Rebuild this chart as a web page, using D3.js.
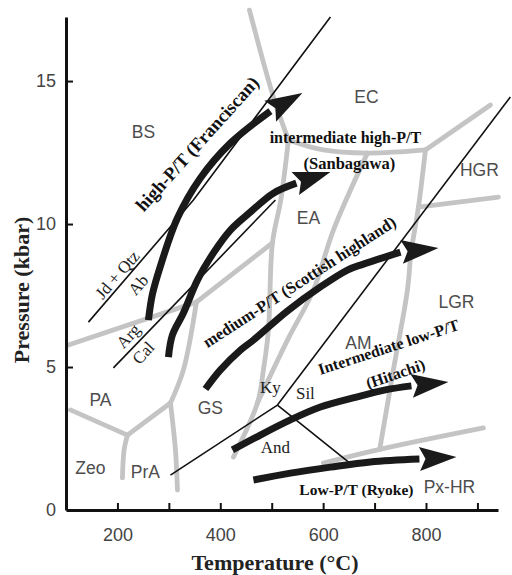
<!DOCTYPE html>
<html><head><meta charset="utf-8">
<script src="https://cdn.jsdelivr.net/npm/d3@7"></script>
<style>
html,body{margin:0;padding:0;background:#fff;}
svg{display:block;}
</style></head>
<body>
<svg id="chart" width="512" height="575"></svg>
<script>
// ---------- DATA (temperature °C, pressure kbar) ----------
const xTickValues = [200, 300, 400, 500, 600, 700, 800, 900];
const xTickLabels = ["200", "", "400", "", "600", "", "800", ""];
const yTickValues = [0, 5, 10, 15];
const yTickLabels = ["0", "5", "10", "15"];

// facies boundaries (grey)
const bsUpperBoundary = [[456.7,17.48],[503.3,14.44],[532.5,12.94]];
const gsEaBoundary = [[532.5,12.94],[517.6,10.84],[501.4,9.34],[493.6,6.29],[483.9,4.90],[472.2,3.74],[425.5,1.85]];
const ecLowerBoundary = [[532.5,12.94],[600.5,12.59],[686.1,12.48],[798.9,12.59]];
const ecHgrBoundary = [[798.9,12.59],[925.3,14.16]];
const amGrBoundary = [[798.9,12.59],[785.3,10.59],[771,9.0],[763.9,7.69],[736.6,4.90],[710,2.12]];
const hgrLgrBoundary = [[785.3,10.59],[940.8,10.94]];
const pxhrBoundary = [[600.5,1.64],[710,2.12],[911.6,2.87]];
const eaAmBoundary = [[686.1,12.48],[620,9.79],[581.1,7.69],[530.6,5.94],[472.2,3.74]];
const bsPaBoundary = [[104.7,5.77],[353.6,7.27]];
const bsGsBoundary = [[353.6,7.27],[501.4,9.34]];
const paGsBoundary = [[353.6,7.27],[328.3,4.90],[303.1,3.74]];
const prAGsBoundary = [[303.1,3.74],[312.8,2.10],[316.7,0.70]];
const paPrABoundary = [[303.1,3.74],[219.4,2.62]];
const paZeoBoundary = [[219.4,2.62],[108.6,3.50]];
const zeoPrABoundary = [[219.4,2.62],[213,2.10],[209.7,1.12]];

// mineral reactions (thin black)
const jdQtzAbLine = [[143.6,6.57],[347.8,10.84],[614.2,17.24]];
const argCalLine = [[192.2,4.97],[507.2,10.84]];
const kyAndLine = [[303.1,1.22],[511.1,3.67]];
const kySilLine = [[511.1,3.67],[964,14.44]];
const andSilLine = [[511.1,3.67],[656.9,1.57]];

// P/T series arrows (last point = arrow tip)
const franciscanPath = [[260.3,6.64],[268.1,7.55],[283.6,8.53],[316.7,10.21],[361.4,11.61],[419.7,12.83],[497.5,13.95],[559.7,14.58]];
const sanbagawaPath = [[299.2,5.35],[306.9,6.12],[328.3,6.89],[355.6,8.04],[386.7,8.99],[419.7,9.79],[458.6,10.42],[503.3,11.08],[548.0,11.43],[614.2,11.82]];
const scottishPath = [[371.1,4.23],[400.3,4.90],[439.2,5.59],[464.4,5.94],[530.6,6.96],[594.7,7.80],[647.2,8.39],[678.3,8.60],[750.3,9.02],[824.2,9.16]];
const hitachiPath = [[423.6,2.10],[470.3,2.55],[536.4,3.15],[594.7,3.60],[664.7,3.95],[721.1,4.20],[771.7,4.34],[843.6,4.48]];
const ryokePath = [[464.4,1.05],[536.4,1.29],[614.2,1.50],[691.9,1.68],[787.2,1.78],[859.2,1.85]];

// labels
const faciesNames = ["BS","EC","EA","HGR","LGR","AM","PA","GS","Zeo","PrA","Px-HR"];
const faciesPos = [[250.6,13.22],[684.2,14.44],[571.4,10.21],[903.9,11.89],[859.2,7.27],[668.6,5.84],[166.9,3.85],[380.8,3.57],[147.5,1.47],[254.4,1.33],[845.5,0.80]];
const mineralNames = ["Ky","Sil","And","Jd + Qtz","Ab","Arg","Cal"];
const mineralPos = [[497.5,4.27],[565.5,4.09],[507.2,2.20],[200,8.22],[240.8,7.87],[221.4,6.08],[250.6,5.49]];
const mineralAngle = [0,0,0,-49,-49,-47,-47];
const seriesNames = ["high-P/T (Franciscan)","intermediate high-P/T","(Sanbagawa)","medium-P/T (Scottish highland)","Intermediate low-P/T","(Hitachi)","Low-P/T (Ryoke)"];
const seriesPos = [[355.6,12.80],[643.3,13.04],[651.1,12.13],[553.9,7.97],[726.9,5.70],[740.5,4.76],[664.7,0.70]];
const seriesAngle = [-48,0,0,-33,-18,-19,0];
const seriesSize = [18.5,16,16.5,16.5,16,16,15.5];

// ---------- DRAWING ----------
const svg = d3.select("#chart");
const x = d3.scaleLinear().domain([100, 940]).range([66, 498]);
const y = d3.scaleLinear().domain([0, 17.24]).range([510, 17]);

const line = d3.line().x(d => x(d[0])).y(d => y(d[1]));
const smooth = d3.line().x(d => x(d[0])).y(d => y(d[1])).curve(d3.curveCatmullRom.alpha(0.5));

const greyLines = [bsUpperBoundary, gsEaBoundary, ecLowerBoundary, ecHgrBoundary, amGrBoundary, hgrLgrBoundary,
  pxhrBoundary, eaAmBoundary, bsPaBoundary, bsGsBoundary, paGsBoundary, prAGsBoundary, paPrABoundary, paZeoBoundary, zeoPrABoundary];
svg.append("g").selectAll("path").data(greyLines).join("path")
  .attr("d", d => smooth(d))
  .attr("fill", "none").attr("stroke", "#c4c4c4").attr("stroke-width", 4.8)
  .attr("stroke-linecap", "round").attr("stroke-linejoin", "round");

const blackLines = [jdQtzAbLine, argCalLine, kyAndLine, kySilLine, andSilLine];
svg.append("g").selectAll("path").data(blackLines).join("path")
  .attr("d", d => line(d))
  .attr("fill", "none").attr("stroke", "#111").attr("stroke-width", 1.6);

// arrows
const arrows = [franciscanPath, sanbagawaPath, scottishPath, hitachiPath, ryokePath];
const ag = svg.append("g");
arrows.forEach(pts => {
  const shaft = pts.slice(0, pts.length - 1);
  ag.append("path").attr("d", smooth(shaft))
    .attr("fill", "none").attr("stroke", "#1a1a1a").attr("stroke-width", 7)
    .attr("stroke-linecap", "butt");
  const tip = pts[pts.length - 1], base = shaft[shaft.length - 1];
  const tx = x(tip[0]), ty = y(tip[1]), bx = x(base[0]), by = y(base[1]);
  const L = Math.hypot(tx - bx, ty - by), ux = (tx - bx) / L, uy = (ty - by) / L;
  const hw = 12;
  const bx2 = tx - ux * 37, by2 = ty - uy * 37;
  const c1 = [bx2 - uy * hw, by2 + ux * hw], c2 = [bx2 + uy * hw, by2 - ux * hw];
  const notch = [tx - ux * 31, ty - uy * 31];
  ag.append("path").attr("d", `M${tx},${ty}L${c1[0]},${c1[1]}L${notch[0]},${notch[1]}L${c2[0]},${c2[1]}Z`)
    .attr("fill", "#1a1a1a");
});

// axes
const xAxis = d3.axisBottom(x).tickValues(xTickValues).tickSize(-7).tickSizeOuter(0).tickPadding(18)
  .tickFormat((d, i) => xTickLabels[i]);
const yAxis = d3.axisLeft(y).tickValues(yTickValues).tickSize(-7).tickSizeOuter(0).tickPadding(10)
  .tickFormat((d, i) => yTickLabels[i]);
const gx = svg.append("g").attr("transform", "translate(0,510)").call(xAxis);
const gy = svg.append("g").attr("transform", "translate(66,0)").call(yAxis);
[gx, gy].forEach(g => {
  g.select(".domain").attr("stroke", "#111").attr("stroke-width", 3);
  g.selectAll(".tick line").attr("stroke", "#111").attr("stroke-width", 2);
  g.selectAll(".tick text").attr("font-family", "Liberation Sans, Arial, sans-serif")
    .attr("font-size", 18).attr("fill", "#444");
});
gy.select(".tick line").attr("stroke", "none");

// facies labels
svg.append("g").selectAll("text").data(faciesNames).join("text")
  .attr("x", (d, i) => x(faciesPos[i][0])).attr("y", (d, i) => y(faciesPos[i][1]))
  .attr("text-anchor", "middle").attr("dominant-baseline", "central")
  .attr("font-family", "Liberation Sans, Arial, sans-serif").attr("font-size", 17.5).attr("fill", "#4d4d4d")
  .text(d => d);

// mineral labels
svg.append("g").selectAll("text").data(mineralNames).join("text")
  .attr("transform", (d, i) => `translate(${x(mineralPos[i][0])},${y(mineralPos[i][1])}) rotate(${mineralAngle[i]})`)
  .attr("text-anchor", "middle").attr("dominant-baseline", "central")
  .attr("font-family", "Liberation Serif, Times New Roman, serif").attr("font-size", 17).attr("fill", "#222")
  .text(d => d);

// series labels
svg.append("g").selectAll("text").data(seriesNames).join("text")
  .attr("transform", (d, i) => `translate(${x(seriesPos[i][0])},${y(seriesPos[i][1])}) rotate(${seriesAngle[i]})`)
  .attr("text-anchor", "middle").attr("dominant-baseline", "central")
  .attr("font-family", "Liberation Serif, Times New Roman, serif").attr("font-weight", "bold")
  .attr("font-size", (d, i) => seriesSize[i]).attr("fill", "#111")
  .text(d => d);

// axis titles
svg.append("text").attr("x", 275).attr("y", 562).attr("text-anchor", "middle").attr("dominant-baseline", "central")
  .attr("font-family", "Liberation Serif, Times New Roman, serif").attr("font-weight", "bold").attr("font-size", 22)
  .attr("fill", "#222").text("Temperature (°C)");
svg.append("text").attr("transform", "translate(21,290) rotate(-90)").attr("text-anchor", "middle").attr("dominant-baseline", "central")
  .attr("font-family", "Liberation Serif, Times New Roman, serif").attr("font-weight", "bold").attr("font-size", 22)
  .attr("fill", "#222").text("Pressure (kbar)");
</script>
</body></html>
